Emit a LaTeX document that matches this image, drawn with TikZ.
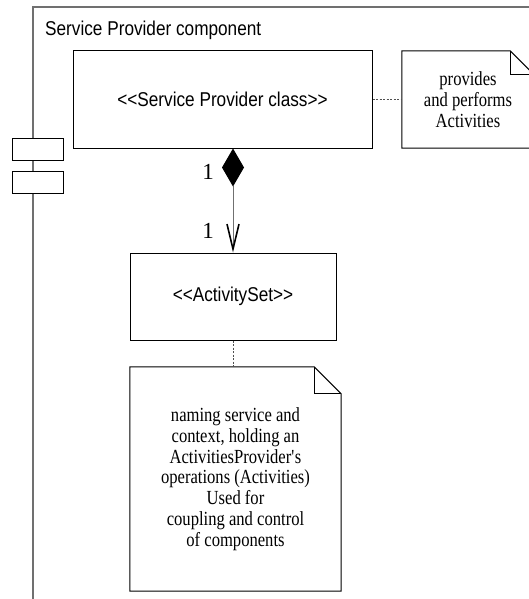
\documentclass[tikz,border=0pt]{standalone}
\usepackage{fontspec}
\setmainfont{Liberation Serif}
\newfontfamily\umlsans[FakeStretch=0.86]{Liberation Sans}
\newfontfamily\umlserif[FakeStretch=0.83]{Liberation Serif}
\newfontfamily\umldigit{Liberation Serif}
\usetikzlibrary{arrows.meta}
\definecolor{framegray}{RGB}{112,112,112}
\definecolor{dashgray}{RGB}{80,80,80}
\tikzset{
  sanstext/.style={font=\umlsans\fontsize{20}{22}\selectfont},
  notetext/.style={font=\umlserif\fontsize{20}{20.8}\selectfont, align=center},
  classbox/.style={draw=black, line width=1pt, sanstext, inner sep=0pt},
  notebox/.style={draw=none, notetext, inner sep=0pt},
  noteline/.style={draw=black, line width=1pt},
  portbox/.style={draw=black, line width=1pt, fill=white, minimum width=51pt, minimum height=22pt, inner sep=0pt},
  dashline/.style={draw=dashgray, line width=1pt, dash pattern=on 2pt off 1.5pt},
  compline/.style={draw=framegray, line width=1pt,
    {Diamond[length=38pt,width=22pt,color=black,fill=black]}-{Straight Barb[length=25pt,width=12pt,line width=1.6pt,color=black]}},
  multlabel/.style={font=\umldigit\fontsize{23}{25}\selectfont, inner sep=0pt}
}
\begin{document}
\begin{tikzpicture}[x=1pt,y=-1pt]
\useasboundingbox (0,0) rectangle (529,599);
\clip (0,0) rectangle (529,599);
\fill[white] (0,0) rectangle (529,599);
% component frame
\draw[draw=framegray, line width=1.2pt] (33,7) rectangle (620,660);
\node[sanstext, anchor=west, inner sep=0pt] (title) at (45,30) {Service Provider component};
% ports
\node[portbox] (port1) at (37.5,149) {};
\node[portbox] (port2) at (37.5,182) {};
% service provider class
\node[classbox, minimum width=299pt, minimum height=97pt] (spc) at (222.5,99.5) {<\kern0pt<Service Provider class>\kern0pt>};
% note 1
\node[notebox, minimum width=132pt, minimum height=97pt] (note1) at (468,99.5) {provides\\and performs\\Activities};
\draw[noteline] (note1.north west) -- ([xshift=-24pt]note1.north east) -- ([yshift=-24pt]note1.north east) -- (note1.south east) -- (note1.south west) -- cycle;
\draw[noteline] ([xshift=-24pt]note1.north east) |- ([yshift=-24pt]note1.north east);
\draw[dashline] (spc.east) -- (note1.west);
% activity set
\node[classbox, minimum width=206pt, minimum height=87pt] (act) at (233,296.5) {<\kern0pt<ActivitySet>\kern0pt>};
\draw[compline] (act.north |- spc.south) -- (act.north);
\node[multlabel] (m1) at (208,172) {1};
\node[multlabel] (m2) at (208,231) {1};
% note 2
\node[notebox, minimum width=211pt, minimum height=224pt] (note2) at (235.5,479) {naming service and\\context, holding an\\ActivitiesProvider\textquotesingle s\\operations (Activities)\\Used for\\coupling and control\\of components};
\draw[noteline] (note2.north west) -- ([xshift=-27pt]note2.north east) -- ([yshift=-27pt]note2.north east) -- (note2.south east) -- (note2.south west) -- cycle;
\draw[noteline] ([xshift=-27pt]note2.north east) |- ([yshift=-27pt]note2.north east);
\draw[dashline] (act.south) -- (act.south |- note2.north);
\end{tikzpicture}
\end{document}
